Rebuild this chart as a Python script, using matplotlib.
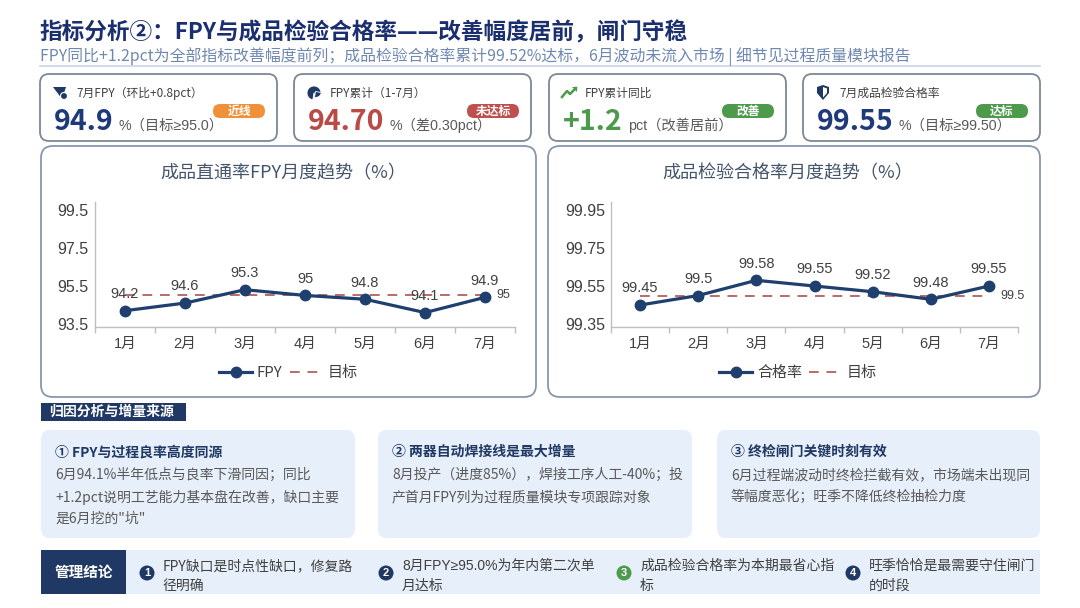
import matplotlib
matplotlib.use("Agg")
import matplotlib.pyplot as plt
from matplotlib.patches import FancyBboxPatch, Rectangle, Circle, Wedge, Polygon

plt.rcParams["font.family"] = ["Noto Sans CJK SC", "DejaVu Sans"]
NUM_FONT = ["Liberation Sans", "Noto Sans CJK SC", "DejaVu Sans"]

# ---- data ----
months = ["1月", "2月", "3月", "4月", "5月", "6月", "7月"]
fpy = [94.2, 94.6, 95.3, 95.0, 94.8, 94.1, 94.9]
fpy_target = [95.0, 95.0, 95.0, 95.0, 95.0, 95.0, 95.0]
pass_rate = [99.45, 99.50, 99.58, 99.55, 99.52, 99.48, 99.55]
pass_target = [99.5, 99.5, 99.5, 99.5, 99.5, 99.5, 99.5]
fpy_ticks = [93.5, 95.5, 97.5, 99.5]
pass_ticks = [99.35, 99.55, 99.75, 99.95]

title = "指标分析②：FPY与成品检验合格率——改善幅度居前，闸门守稳"
subtitle = "FPY同比+1.2pct为全部指标改善幅度前列；成品检验合格率累计99.52%达标，6月波动未流入市场 | 细节见过程质量模块报告"

kpi_labels = ["7月FPY（环比+0.8pct）", "FPY累计（1-7月）", "FPY累计同比", "7月成品检验合格率"]
kpi_values = ["94.9", "94.70", "+1.2", "99.55"]
kpi_suffix = ["%（目标≥95.0）", "%（差0.30pct）", "pct（改善居前）", "%（目标≥99.50）"]
kpi_badges = ["近线", "未达标", "改善", "达标"]

cause_titles = ["① FPY与过程良率高度同源", "② 两器自动焊接线是最大增量", "③ 终检闸门关键时刻有效"]
cause_lines = [
    ["6月94.1%半年低点与良率下滑同因；同比", "+1.2pct说明工艺能力基本盘在改善，缺口主要", "是6月挖的\"坑\""],
    ["8月投产（进度85%），焊接工序人工-40%；投", "产首月FPY列为过程质量模块专项跟踪对象"],
    ["6月过程端波动时终检拦截有效，市场端未出现同", "等幅度恶化；旺季不降低终检抽检力度"],
]
conclusions = [
    ["FPY缺口是时点性缺口，修复路", "径明确"],
    ["8月FPY≥95.0%为年内第二次单", "月达标"],
    ["成品检验合格率为本期最省心指", "标"],
    ["旺季恰恰是最需要守住闸门", "的时段"],
]

NAVY = "#1f3864"
VALUE_NAVY = "#1f3a7a"
RED = "#b94a46"
GREEN = "#4e9a4c"
ORANGE = "#f0913a"
LINE_NAVY = "#1f3f6e"
TARGET_RED = "#b86b6b"
GRAY_TXT = "#404040"
CARD_FILL = "#e7effa"

fig = plt.figure(figsize=(10.8, 6.08), dpi=100)
bg = fig.add_axes([0, 0, 1, 1])
bg.set_xlim(0, 1080)
bg.set_ylim(608, 0)
bg.axis("off")


def rbox(x0, y0, x1, y1, r, fc, ec="none", lw=0.0, z=1):
    p = FancyBboxPatch((x0, y0), x1 - x0, y1 - y0, boxstyle=f"round,pad=0,rounding_size={r}",
                       fc=fc, ec=ec, lw=lw, zorder=z)
    bg.add_patch(p)
    return p


# ---- header ----
bg.text(40, 33, title, fontsize=16.3, fontweight="bold", color="#1b2f6e", va="center", ha="left")
bg.text(40, 57, subtitle, fontsize=11.4, color="#6f88b0", va="center", ha="left")
bg.plot([40, 1040], [66, 66], color="#c9d4e3", lw=1.2)

# ---- KPI cards ----
renderer = fig.canvas.get_renderer()
card_x = [40, 294, 549, 803]
card_w = 237
value_colors = [VALUE_NAVY, RED, GREEN, VALUE_NAVY]
badge_colors = [ORANGE, "#c0504d", GREEN, GREEN]
for i, cx in enumerate(card_x):
    rbox(cx, 74, cx + card_w, 141, 9, "white", ec="#7d8896", lw=1.3)
    # icons
    ix, iy = cx + 20, 93
    if i == 0:
        bg.add_patch(Polygon([(ix - 7, iy - 6), (ix + 6, iy - 6), (ix + 2, iy + 6)], closed=True, fc=NAVY, ec="none"))
        bg.add_patch(Circle((ix + 4, iy + 3), 3.5, fc=NAVY, ec="white", lw=0.8))
    elif i == 1:
        bg.add_patch(Wedge((ix, iy), 7, 100, 370, fc=NAVY, ec="white", lw=0.6))
        bg.add_patch(Wedge((ix + 1.5, iy - 1.5), 6, 10, 100, fc=NAVY, ec="white", lw=0.6))
    elif i == 2:
        bg.plot([ix - 7, ix - 2, ix + 1, ix + 7], [iy + 4, iy - 2, iy + 1, iy - 5], color=GREEN, lw=1.8)
        bg.add_patch(Polygon([(ix + 8, iy - 6), (ix + 3, iy - 6), (ix + 8, iy - 1)], closed=True, fc=GREEN, ec="none"))
    else:
        bg.add_patch(Polygon([(ix - 6, iy - 6), (ix, iy - 8), (ix + 6, iy - 6), (ix + 6, iy), (ix, iy + 7),
                              (ix - 6, iy)], closed=True, fc=NAVY, ec="none"))
        bg.add_patch(Polygon([(ix, iy - 6), (ix + 4, iy - 4.5), (ix + 4, iy), (ix, iy + 4.5)], closed=True,
                             fc="white", ec="none"))
    bg.text(cx + 36, 93, kpi_labels[i], fontsize=8.5, color=GRAY_TXT, va="center", ha="left")
    vt = bg.text(cx + 14, 130, kpi_values[i], fontsize=20.5, fontweight="bold", color=value_colors[i],
                 va="baseline", ha="left")
    ext = vt.get_window_extent(renderer)
    bg.text(ext.x1 + 5, 130, kpi_suffix[i], fontsize=10.3, color="#595959", va="baseline", ha="left",
            family=NUM_FONT)
    bx1 = cx + card_w - 12
    rbox(bx1 - 52, 104, bx1, 118, 7, badge_colors[i], z=3)
    bg.text(bx1 - 26, 111, kpi_badges[i], fontsize=8.5, fontweight="bold", color="white", va="center",
            ha="center", zorder=4)

# ---- trend charts ----
rbox(41, 146, 536, 397, 12, "white", ec="#8797ab", lw=1.3)
rbox(548, 146, 1040, 397, 12, "white", ec="#8797ab", lw=1.3)


def px_rect(x0, x1, y_top, y_bot):
    return [x0 / 1080, 1 - y_bot / 608, (x1 - x0) / 1080, (y_bot - y_top) / 608]


def draw_trend(rect, values, target, ylim, yticks, series_name, ytick_pad):
    ax = fig.add_axes(rect)
    ax.set_facecolor("none")
    xs = list(range(len(months)))
    ax.plot(xs, target, color=TARGET_RED, lw=1.4, ls=(0, (5, 4)), label="目标", zorder=2)
    ax.plot(xs, values, color=LINE_NAVY, lw=2.3, marker="o", ms=7.5, label=series_name, zorder=3)
    for xi, v in zip(xs, values):
        ax.annotate(f"{v:g}", (xi, v), xytext=(0, 12), textcoords="offset points", ha="center",
                    va="center", fontsize=10.5, color=GRAY_TXT, family=NUM_FONT, zorder=4)
    ax.annotate(f"{target[-1]:g}", (xs[-1], target[-1]), xytext=(8, 0), textcoords="offset points",
                ha="left", va="center", fontsize=9, color=GRAY_TXT, family=NUM_FONT)
    ax.set_xlim(-0.5, len(months) - 0.5)
    ax.set_ylim(*ylim)
    ax.set_yticks(yticks)
    ax.set_yticklabels([f"{t:g}" for t in yticks], family=NUM_FONT, fontsize=11.5, color=GRAY_TXT)
    ax.set_xticks(xs)
    ax.set_xticklabels(months, family=NUM_FONT, fontsize=10.5, color=GRAY_TXT)
    ax.set_xticks([k - 0.5 for k in range(len(months) + 1)], minor=True)
    ax.tick_params(axis="x", which="major", length=0, pad=7)
    ax.tick_params(axis="x", which="minor", length=4, color="#bfbfbf", width=1)
    ax.tick_params(axis="y", length=0, pad=ytick_pad)
    for s in ("top", "right"):
        ax.spines[s].set_visible(False)
    for s in ("left", "bottom"):
        ax.spines[s].set_color("#bfbfbf")
        ax.spines[s].set_linewidth(1)
    handles, labels = ax.get_legend_handles_labels()
    ax.legend(handles[::-1], labels[::-1], loc="center", bbox_to_anchor=(0.46, -0.37), ncol=2,
              frameon=False, fontsize=10.8, handlelength=2.2, columnspacing=0.5, handletextpad=0.3,
              labelcolor=GRAY_TXT)
    return ax


draw_trend(px_rect(95, 515, 202, 326.7), fpy, fpy_target, (93.36, 99.9), fpy_ticks, "FPY", 5)
draw_trend(px_rect(611, 1018, 202, 326.7), pass_rate, pass_target, (99.336, 99.992), pass_ticks, "合格率", 4)
bg.text(283, 173, "成品直通率FPY月度趋势（%）", fontsize=13, color="#44546a", ha="center", va="center")
bg.text(788, 173, "成品检验合格率月度趋势（%）", fontsize=13, color="#44546a", ha="center", va="center")

# ---- cause analysis ----
bg.add_patch(Rectangle((41, 403), 145, 18, fc=NAVY, ec="none"))
bg.text(49, 412, "归因分析与增量来源", fontsize=10, fontweight="bold", color="white", va="center", ha="left")
cause_x = [(41, 355), (378, 692), (717, 1040)]
for (x0, x1), ttl, lines in zip(cause_x, cause_titles, cause_lines):
    rbox(x0, 430, x1, 538, 9, CARD_FILL)
    bg.text(x0 + 14, 452, ttl, fontsize=10, fontweight="bold", color=NAVY, va="center", ha="left")
    for k, ln in enumerate(lines):
        bg.text(x0 + 14, 475 + 22 * k, ln, fontsize=10, color="#595959", va="center", ha="left")

# ---- management conclusion ----
bg.add_patch(Rectangle((41, 550), 999, 44, fc=CARD_FILL, ec="none"))
bg.add_patch(Rectangle((41, 550), 85, 44, fc=NAVY, ec="none"))
bg.text(83.5, 572, "管理结论", fontsize=10.5, fontweight="bold", color="white", va="center", ha="center")
item_x = [147, 386, 624, 853]
circle_colors = [NAVY, NAVY, GREEN, NAVY]
for n, (cx, lines) in enumerate(zip(item_x, conclusions)):
    bg.add_patch(Circle((cx, 573), 7.5, fc=circle_colors[n], ec="none"))
    bg.text(cx, 573.5, str(n + 1), fontsize=8, fontweight="bold", color="white", va="center", ha="center",
            family=NUM_FONT)
    for k, ln in enumerate(lines):
        fam = NUM_FONT if "≥" in ln else None
        bg.text(cx + 16, 566 + 20 * k, ln, fontsize=10, color=GRAY_TXT, va="center", ha="left", family=fam)

fig.savefig("out.png", dpi=100)
